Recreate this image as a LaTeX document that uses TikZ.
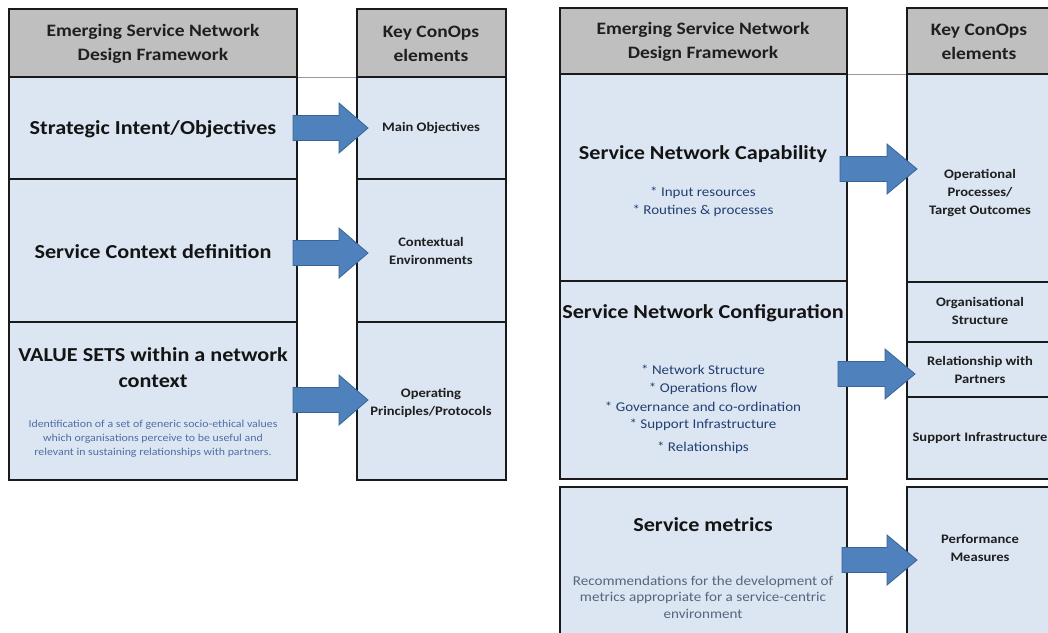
\documentclass[tikz,border=0pt]{standalone}
\usepackage{fontspec}
\setmainfont{Carlito}[FakeStretch=1.12]
\usetikzlibrary{fit}
\definecolor{hdr}{HTML}{BFBFBF}
\definecolor{cellfill}{HTML}{DCE6F2}
\definecolor{arrfill}{HTML}{4F81BD}
\definecolor{arrdraw}{HTML}{3A6496}
\definecolor{bullettxt}{HTML}{213F72}
\definecolor{desctxt}{HTML}{4E6EA6}
\definecolor{recotxt}{HTML}{55657E}
\definecolor{frame}{HTML}{1A1A1A}
\tikzset{
  hdrbox/.style={draw=frame, line width=1.5pt, fill=hdr, inner sep=0pt, fit={#1}},
  cell/.style={draw=frame, line width=1.5pt, fill=cellfill, inner sep=0pt, fit={#1}},
  hdrtxt/.style={font=\bfseries\fontsize{17.4}{23.5}\selectfont, align=center, text=black!88, inner sep=0pt},
  titletxt/.style={font=\bfseries\fontsize{19.8}{26}\selectfont, align=center, text=black!92, inner sep=0pt},
  keytxt/.style={font=\bfseries\fontsize{13}{18}\selectfont, align=center, text=black!88, inner sep=0pt},
  bullettext/.style={font=\fontsize{13.4}{18}\selectfont, text=bullettxt, inner sep=0pt},
  leftdesc/.style={font=\fontsize{10.6}{14.2}\selectfont, align=center, text=desctxt, inner sep=0pt},
  recodesc/.style={font=\fontsize{13.5}{16.6}\selectfont, align=center, text=recotxt, inner sep=0pt},
  blockarrow/.style={fill=arrfill, draw=arrdraw, line width=0.8pt, line join=miter},
  sepline/.style={draw=black!40, line width=0.8pt},
}
% #1 start x, #2 head start x, #3 tip x, #4 centre y
\newcommand{\bigarrow}[4]{%
  \path[blockarrow] (#1,#4-12.5) -- (#2,#4-12.5) -- (#2,#4-25) -- (#3,#4)
    -- (#2,#4+25) -- (#2,#4+12.5) -- (#1,#4+12.5) -- cycle;}
\begin{document}
\begin{tikzpicture}[x=1pt,y=-1pt]
\useasboundingbox (0,0) rectangle (1048,632);
\clip (0,0) rectangle (1048,632);
\fill[white] (0,0) rectangle (1048,632);

% ================= LEFT PANEL =================
\node[hdrbox={(9,9)(297,77)}] (lh1) {};
\node[hdrbox={(357,9)(506,77)}] (lh2) {};
\draw[sepline] (lh1.south east) -- (lh2.south west);

\node[cell={(9,77)(297,179)}] (l1) {};
\node[cell={(9,179)(297,322)}] (l2) {};
\node[cell={(9,322)(297,480)}] (l3) {};
\node[cell={(357,77)(506,179)}] (r1) {};
\node[cell={(357,179)(506,322)}] (r2) {};
\node[cell={(357,322)(506,480)}] (r3) {};

\node[hdrtxt] at (153,44) {Emerging Service Network\\Design Framework};
\node[hdrtxt] at (431,44) {Key ConOps\\elements};

\node[titletxt] (t1) at (153,129) {Strategic Intent/Objectives};
\node[titletxt] (t2) at (153,252) {Service Context definition};
\node[titletxt] (t3) at (153,368) {VALUE SETS within a network\\context};
\node[leftdesc] at (153,439) {Identification of a set of generic socio-ethical values\\which organisations perceive to be useful and\\relevant in sustaining relationships with partners.};

\node[keytxt] (k1) at (431,128) {Main Objectives};
\node[keytxt] (k2) at (431,251) {Contextual\\Environments};
\node[keytxt] (k3) at (431,403) {Operating\\Principles/Protocols};

\bigarrow{293}{339}{368}{128}
\bigarrow{293}{339}{368}{253}
\bigarrow{293}{339}{368}{400}

% ================= RIGHT PANEL =================
\node[hdrbox={(560,8)(847,74)}] (rh1) {};
\node[hdrbox={(907,8)(1070,74)}] (rh2) {};
\draw[sepline] (rh1.south east) -- (rh2.south west);

\node[cell={(560,74)(847,281)}] (c1) {};
\node[cell={(560,281)(847,479)}] (c2) {};
\node[cell={(560,487)(847,660)}] (c3) {};
\node[cell={(907,74)(1070,282)}] (e1) {};
\node[cell={(907,282)(1070,342)}] (e2) {};
\node[cell={(907,342)(1070,397)}] (e3) {};
\node[cell={(907,397)(1070,479)}] (e4) {};
\node[cell={(907,487)(1070,660)}] (e5) {};

\node[hdrtxt] at (703,42) {Emerging Service Network\\Design Framework};
\node[hdrtxt] at (979,42) {Key ConOps\\elements};

\node[titletxt] (s1) at (703,154) {Service Network Capability};
\node[bullettext] at (703,193) {* Input resources};
\node[bullettext] at (703,211) {* Routines \& processes};

\node[titletxt] (s2) at (703,313) {Service Network Configuration};
\node[bullettext] at (703,370) {* Network Structure};
\node[bullettext] at (703,389) {* Operations flow};
\node[bullettext] at (703,407) {* Governance and co-ordination};
\node[bullettext] at (703,425) {* Support Infrastructure};
\node[bullettext] at (703,448) {* Relationships};

\node[titletxt] (s3) at (703,525) {Service metrics};
\node[recodesc] at (703,597) {Recommendations for the development of\\metrics appropriate for a service-centric\\environment};

\node[keytxt] (o1) at (980,193) {Operational\\Processes/\\Target Outcomes};
\node[keytxt] (o2) at (980,311) {Organisational\\Structure};
\node[keytxt] (o3) at (980,370) {Relationship with\\Partners};
\node[keytxt] (o4) at (980,438) {Support Infrastructure};
\node[keytxt] (o5) at (980,548) {Performance\\Measures};

\bigarrow{840}{887}{917}{169}
\bigarrow{838}{885}{915}{374}
\bigarrow{842}{887}{917}{560}
\end{tikzpicture}
\end{document}
